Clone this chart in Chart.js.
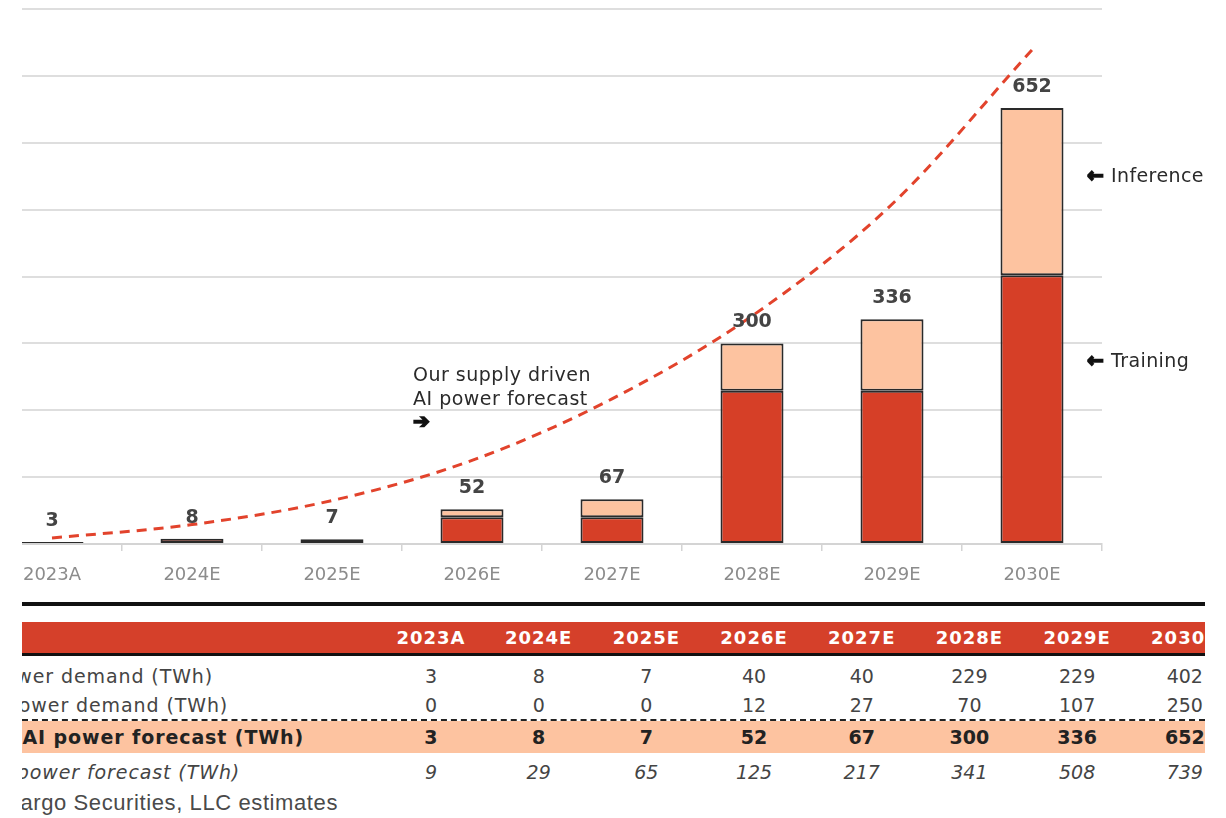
<!DOCTYPE html>
<html>
<head>
<meta charset="utf-8">
<script src="https://cdn.jsdelivr.net/npm/chart.js@4.4.1/dist/chart.umd.min.js"></script>
<style>
  html, body { margin: 0; padding: 0; background: #fff; }
  body { width: 1226px; height: 818px; position: relative; overflow: hidden; font-family: "DejaVu Sans", Verdana, sans-serif; }
  #page { position: absolute; left: 22px; top: 0; width: 1183px; height: 818px; overflow: hidden; }
  #chartBox { position: absolute; left: -40px; top: 0; width: 1244px; height: 600px; }
  .rule { position: absolute; left: 0; right: 0; top: 602px; height: 4px; background: #111; }
  .row { position: absolute; left: 0; right: 0; display: flex; align-items: center; font-size: 19px; color: #444; }
  .row .lab { position: relative; flex: none; width: 355.15px; height: 100%; }
  .row .lab span { position: absolute; top: 50%; transform: translateY(-50%); white-space: nowrap; letter-spacing: 0.9px; }
  .row .val { flex: none; width: 107.7px; text-align: center; white-space: nowrap; }
  .head { top: 622px; height: 31px; background: #d5402a; border-bottom: 3px solid #111; color: #fff; font-weight: bold; font-size: 18px; letter-spacing: 1px; }
  .r1 { top: 660px; height: 31px; }
  .r2 { top: 691px; height: 28px; border-bottom: 2px dashed #222; }
  .r3 { top: 721px; height: 32px; background: #fdc3a0; font-weight: bold; color: #222; }
  .r4 { top: 756px; height: 32px; font-style: italic; }
  .r1 .lab span { right: 164px; }
  .r2 .lab span { right: 149px; }
  .r3 .lab span { right: 73px; }
  .r4 .lab span { right: 137px; }
  #source { position: absolute; top: 788px; height: 30px; right: 867px; line-height: 30px; white-space: nowrap;
            font-family: "Liberation Sans", Arial, sans-serif; font-size: 22px; letter-spacing: 0.6px; color: #4a4a4a; }
</style>
</head>
<body>
<div id="page">
  <div id="chartBox"><canvas id="aiChart" width="1244" height="600"></canvas></div>
  <div class="rule"></div>
  <div id="table"></div>
  <div id="source">Source: Wells Fargo Securities, LLC estimates</div>
</div>
<script>
const years = ["2023A", "2024E", "2025E", "2026E", "2027E", "2028E", "2029E", "2030E"];
const training = [3, 8, 7, 40, 40, 229, 229, 402];
const inference = [0, 0, 0, 12, 27, 70, 107, 250];
const totals = [3, 8, 7, 52, 67, 300, 336, 652];
const supplyForecast = [9, 29, 65, 125, 217, 341, 508, 739];
const rowLabels = [
  "Training power demand (TWh)",
  "Inference power demand (TWh)",
  "Total AI power forecast (TWh)",
  "Supply driven AI power forecast (TWh)",
];

// table under the chart
const tableEl = document.getElementById("table");
const cells = (vals) => vals.map((v) => `<div class="val">${v}</div>`).join("");
tableEl.insertAdjacentHTML(
  "beforeend",
  `<div class="row head"><div class="lab"></div>${cells(years)}</div>` +
    [training, inference, totals, supplyForecast]
      .map(
        (vals, i) =>
          `<div class="row r${i + 1}"><div class="lab"><span>${rowLabels[i]}</span></div>${cells(vals)}</div>`
      )
      .join("")
);

// heavy arrow glyph: fill plus a thin stroke
const arrow = (ctx, ch, x, y) => {
  ctx.fillText(ch, x, y);
  ctx.strokeText(ch, x, y);
};

const notes = {
  id: "notes",
  afterDatasetsDraw(chart) {
    const { ctx, chartArea, scales } = chart;
    const { x, y } = scales;
    ctx.save();
    ctx.textBaseline = "middle";

    // totals above the bars
    ctx.font = 'bold 19px "DejaVu Sans"';
    ctx.fillStyle = "#444";
    ctx.textAlign = "center";
    totals.forEach((t, i) => {
      ctx.fillText(String(t), x.getPixelForValue(i), y.getPixelForValue(t) - 21);
    });

    // line callout
    ctx.textAlign = "left";
    ctx.fillStyle = "#2a2a2a";
    ctx.strokeStyle = "#111";
    ctx.lineWidth = 1.6;
    ctx.letterSpacing = "0.5px";
    ctx.font = '19px "DejaVu Sans"';
    const nx = x.getPixelForValue(3) - 59;
    ctx.fillText("Our supply driven", nx, chartArea.bottom - 168);
    ctx.fillText("AI power forecast", nx, chartArea.bottom - 144);
    ctx.letterSpacing = "0px";
    ctx.fillStyle = "#111";
    ctx.font = 'bold 20px "DejaVu Sans"';
    arrow(ctx, "\u2794", nx, chartArea.bottom - 121);

    // segment names on the right
    const rx = chartArea.right - 15;
    ctx.font = 'bold 20px "DejaVu Sans"';
    arrow(ctx, "\u2190", rx, 177);
    arrow(ctx, "\u2190", rx, 362);
    ctx.fillStyle = "#2a2a2a";
    ctx.font = '19px "DejaVu Sans"';
    ctx.letterSpacing = "0.4px";
    ctx.fillText("Inference", rx + 24, 177);
    ctx.fillText("Training", rx + 24, 362);
    ctx.restore();
  },
};

new Chart(document.getElementById("aiChart"), {
  type: "bar",
  data: {
    labels: years,
    datasets: [
      {
        type: "line",
        label: "Supply driven forecast",
        data: supplyForecast,
        borderColor: "#e2432c",
        borderWidth: 3,
        borderDash: [10, 7],
        pointRadius: 0,
        cubicInterpolationMode: "monotone",
        fill: false,
        order: 0,
      },
      {
        label: "Training",
        data: training,
        backgroundColor: "#d63f27",
        borderColor: "#2a2a2a",
        borderWidth: 2,
        borderSkipped: false,
        barPercentage: 0.45,
        categoryPercentage: 1,
        order: 1,
      },
      {
        label: "Inference",
        data: totals.map((t, i) => [training[i], t]),
        backgroundColor: "#fdc3a0",
        borderColor: "#2a2a2a",
        borderWidth: 2,
        borderSkipped: false,
        barPercentage: 0.45,
        categoryPercentage: 1,
        order: 1,
      },
    ],
  },
  options: {
    responsive: false,
    animation: false,
    layout: { padding: { top: 9, right: 124, left: 0, bottom: 0 } },
    plugins: { legend: { display: false }, tooltip: { enabled: false } },
    scales: {
      x: {
        stacked: true,
        afterFit: (s) => { s.height = 56; },
        border: { color: "#d4d4d4", width: 2 },
        grid: { drawOnChartArea: false, tickLength: 7, color: "#d4d4d4", lineWidth: 1.5 },
        ticks: {
          autoSkip: false,
          maxRotation: 0,
          padding: 14,
          color: "#8c8c8c",
          font: { family: "DejaVu Sans", size: 18 },
        },
      },
      y: {
        stacked: false,
        min: 0,
        max: 800,
        afterFit: (s) => { s.width = 0; },
        border: { display: false },
        grid: { color: "#dedede", lineWidth: 2, drawTicks: false },
        ticks: { display: false, stepSize: 100 },
      },
    },
  },
  plugins: [notes],
});
</script>
</body>
</html>
